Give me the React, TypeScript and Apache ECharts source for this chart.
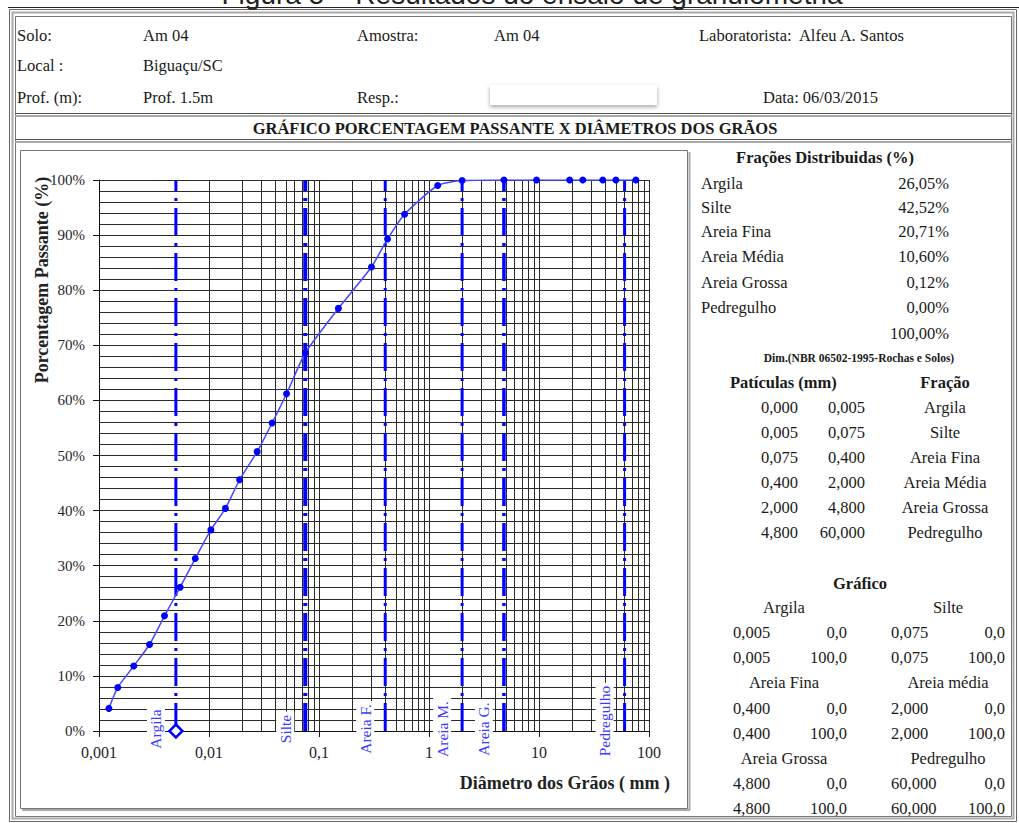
import React, { useEffect, useRef } from 'react';
import * as echarts from 'echarts';

// ---- Curva granulométrica (diâmetro em mm, % passante) ----
const diametros = [0.00123, 0.00148, 0.00207, 0.00288, 0.00394, 0.00547, 0.0075, 0.0104, 0.0141, 0.019, 0.0274, 0.0375, 0.0507, 0.075, 0.15, 0.3, 0.42, 0.6, 1.2, 2.0, 4.8, 9.5, 19, 25, 38, 50, 76];
const passante = [4.1, 7.9, 11.8, 15.7, 20.9, 26.1, 31.3, 36.5, 40.4, 45.6, 50.7, 55.9, 61.2, 68.6, 76.7, 84.2, 89.3, 93.8, 99.0, 99.9, 100, 100, 100, 100, 100, 100, 100];

// ---- Limites das frações ----
const limites = [0.005, 0.075, 0.4, 2.0, 4.8, 60];
const rotulosLimites = ['Argila', 'Silte', 'Areia F.', 'Areia M.', 'Areia G.', 'Pedregulho'];
const limitePct = [0, 100];

// ---- Eixos ----
const xMin = 0.001;
const xMax = 100;
const decadas = [0.001, 0.01, 0.1, 1, 10];
const multiplicadores = [2, 3, 4, 5, 6, 7, 8, 9];

// ---- Cabeçalho ----
const cabecalho = {
  solo: 'Am 04', amostra: 'Am 04', laboratorista: 'Alfeu A. Santos',
  local: 'Biguaçu/SC', prof: 'Prof. 1.5m', data: '06/03/2015',
};
const titulo = 'GRÁFICO PORCENTAGEM PASSANTE X DIÂMETROS DOS GRÃOS';

// ---- Frações distribuídas ----
const fracNomes = ['Argila', 'Silte', 'Areia Fina', 'Areia Média', 'Areia Grossa', 'Pedregulho'];
const fracValores = ['26,05%', '42,52%', '20,71%', '10,60%', '0,12%', '0,00%'];
const fracTotal = '100,00%';

// ---- NBR 6502 ----
const nbrInf = ['0,000', '0,005', '0,075', '0,400', '2,000', '4,800'];
const nbrSup = ['0,005', '0,075', '0,400', '2,000', '4,800', '60,000'];
const nbrFracao = ['Argila', 'Silte', 'Areia Fina', 'Areia Média', 'Areia Grossa', 'Pedregulho'];

// ---- Tabela "Gráfico" ----
const grafNomes = ['Argila', 'Silte', 'Areia Fina', 'Areia média', 'Areia Grossa', 'Pedregulho'];
const grafDiam = ['0,005', '0,075', '0,400', '2,000', '4,800', '60,000'];
const grafPct = ['0,0', '100,0'];

const SERIF = "'Liberation Serif', 'Times New Roman', serif";
const SANS = "'Liberation Sans', Arial, sans-serif";
const TXT = '#1a1a1a';
const BLUE = '#0000ff';

type O = { size?: number; bold?: boolean; align?: string; color?: string; rotation?: number; z?: number; bg?: string; pad?: number[]; font?: string; valign?: string };
function txt(text: string, x: number, y: number, o: O = {}) {
  const style: any = {
    text,
    fontFamily: o.font ?? SERIF,
    fontSize: o.size ?? 15,
    fontWeight: o.bold ? 'bold' : 'normal',
    fill: o.color ?? TXT,
    textAlign: o.align ?? 'left',
    textVerticalAlign: o.valign ?? 'middle',
  };
  if (o.bg) style.backgroundColor = o.bg;
  if (o.pad) style.padding = o.pad;
  return { type: 'text', x, y, rotation: o.rotation ?? 0, z: o.z ?? 10, silent: true, style };
}
function ln(x1: number, y1: number, x2: number, y2: number, color: string, w = 1) {
  return { type: 'line', silent: true, z: 5, shape: { x1, y1, x2, y2 }, style: { stroke: color, lineWidth: w } };
}

function staticGraphics() {
  const g: any[] = [];
  // legenda da figura (cortada no topo, como na referência)
  g.push(txt('Figura 5 – Resultados do ensaio de granulometria', 532, 8, { font: SANS, size: 28, align: 'center', valign: 'bottom', color: '#222' }));
  // moldura
  g.push(ln(8, 7.5, 1019, 7.5, '#222'));
  g.push({ type: 'rect', silent: true, z: 5, shape: { x: 9.5, y: 9.5, width: 1007, height: 812 }, style: { fill: 'none', stroke: '#666', lineWidth: 1 } });
  g.push({ type: 'rect', silent: true, z: 5, shape: { x: 12.5, y: 12.5, width: 1001, height: 806 }, style: { fill: 'none', stroke: '#aaa', lineWidth: 2 } });
  g.push({ type: 'rect', silent: true, z: 5, shape: { x: 15.5, y: 16.5, width: 996, height: 800 }, style: { fill: 'none', stroke: '#777', lineWidth: 1 } });
  g.push(ln(15, 113.5, 1012, 113.5, '#555'));
  g.push(ln(15, 116, 1012, 116, '#aaa', 2));
  g.push(ln(15, 139.5, 1012, 139.5, '#555'));
  g.push(ln(15, 142, 1012, 142, '#aaa', 2));
  // caixa do gráfico
  g.push({ type: 'rect', silent: true, z: 5, shape: { x: 20.5, y: 150.5, width: 667, height: 658 }, style: { fill: 'none', stroke: '#777', lineWidth: 1 } });
  g.push(ln(689.5, 152, 689.5, 810, '#aaa', 2));
  g.push(ln(22, 810, 690, 810, '#aaa', 2));

  // cabeçalho
  const hs = 16.5;
  g.push(txt('Solo:', 17, 35, { size: hs }));
  g.push(txt(cabecalho.solo, 143, 35, { size: hs }));
  g.push(txt('Amostra:', 357, 35, { size: hs }));
  g.push(txt(cabecalho.amostra, 494, 35, { size: hs }));
  g.push(txt('Laboratorista:  ' + cabecalho.laboratorista, 699, 35, { size: hs }));
  g.push(txt('Local :', 17, 65, { size: hs }));
  g.push(txt(cabecalho.local, 143, 65, { size: hs }));
  g.push(txt('Prof. (m):', 17, 97, { size: hs }));
  g.push(txt(cabecalho.prof, 143, 97, { size: hs }));
  g.push(txt('Resp.:', 357, 97, { size: hs }));
  g.push({ type: 'rect', silent: true, z: 6, shape: { x: 490, y: 85, width: 167, height: 20 }, style: { fill: '#fff', shadowBlur: 4, shadowColor: 'rgba(0,0,0,0.35)', shadowOffsetY: 2 } });
  g.push(txt('Data: ' + cabecalho.data, 763, 97, { size: hs }));
  g.push(txt(titulo, 515, 128, { size: 16.5, bold: true, align: 'center' }));

  // nomes dos eixos
  g.push(txt('Porcentagem Passante (%)', 42, 280, { size: 18, bold: true, align: 'center', rotation: Math.PI / 2, color: '#222' }));
  g.push(txt('Diâmetro dos Grãos ( mm )', 670, 783, { size: 18, bold: true, align: 'right', color: '#222' }));

  // tabela: frações
  const ts = 16.5;
  g.push(txt('Frações Distribuidas (%)', 825, 157, { size: ts, bold: true, align: 'center' }));
  const fy = [183, 207, 231, 256, 282, 307];
  fracNomes.forEach((n, i) => {
    g.push(txt(n, 701, fy[i], { size: ts }));
    g.push(txt(fracValores[i], 949, fy[i], { size: ts, align: 'right' }));
  });
  g.push(txt(fracTotal, 949, 333, { size: ts, align: 'right' }));
  g.push(txt('Dim.(NBR 06502-1995-Rochas e Solos)', 859, 358, { size: 11.5, bold: true, align: 'center' }));
  g.push(txt('Patículas (mm)', 730, 382, { size: ts, bold: true }));
  g.push(txt('Fração', 945, 382, { size: ts, bold: true, align: 'center' }));
  nbrInf.forEach((v, i) => {
    const y = 407 + 25 * i;
    g.push(txt(v, 798, y, { size: ts, align: 'right' }));
    g.push(txt(nbrSup[i], 865, y, { size: ts, align: 'right' }));
    g.push(txt(nbrFracao[i], 945, y, { size: ts, align: 'center' }));
  });
  g.push(txt('Gráfico', 860, 583, { size: ts, bold: true, align: 'center' }));
  for (let r = 0; r < 3; r++) {
    const y0 = 607 + 75.5 * r;
    const a = 2 * r, b = 2 * r + 1;
    g.push(txt(grafNomes[a], 784, y0, { size: ts, align: 'center' }));
    g.push(txt(grafNomes[b], 948, y0, { size: ts, align: 'center' }));
    grafPct.forEach((p, k) => {
      const y = y0 + 25.5 + 25 * k;
      g.push(txt(grafDiam[a], 733, y, { size: ts }));
      g.push(txt(p, 847, y, { size: ts, align: 'right' }));
      g.push(txt(grafDiam[b], 891, y, { size: ts }));
      g.push(txt(p, 1005, y, { size: ts, align: 'right' }));
    });
  }
  return g;
}

export default function App() {
  const ref = useRef<HTMLDivElement>(null);
  useEffect(() => {
    if (!ref.current) return;
    const chart = echarts.init(ref.current, undefined, { renderer: 'svg' });

    const minorX: number[] = [];
    decadas.forEach((d) => multiplicadores.forEach((m) => minorX.push(Number((d * m).toPrecision(6)))));

    const gridColor = '#2a2a2a';
    const limWidths = [3, 4, 3, 3, 3.5, 3];

    const series: any[] = [
      {
        name: 'grade', type: 'line', data: [], silent: true, z: 1,
        markLine: {
          silent: true, symbol: ['none', 'none'], animation: false, z: 1,
          label: { show: false },
          lineStyle: { color: gridColor, width: 1, type: 'solid' },
          emphasis: { disabled: true },
          data: minorX.map((v) => ({ xAxis: v })),
        },
      },
    ];
    limites.forEach((lim, i) => {
      const data: any[] = limitePct.map((p) => [lim, p]);
      if (i === 0) {
        data[0] = { value: [lim, limitePct[0]], symbol: 'diamond', symbolSize: 13, itemStyle: { color: '#fff', borderColor: BLUE, borderWidth: 2.5 } };
      }
      series.push({
        name: rotulosLimites[i], type: 'line', data, z: 3, symbol: 'none', showSymbol: i === 0,
        lineStyle: { color: BLUE, width: limWidths[i], type: [28, 7, 3, 7] },
        silent: true,
      });
    });
    series.push({
      name: 'Porcentagem passante', type: 'line', z: 4,
      data: diametros.map((d, i) => [d, passante[i]]),
      symbol: 'circle', symbolSize: 7, smooth: 0.2,
      itemStyle: { color: BLUE },
      lineStyle: { color: '#4646ff', width: 1.5 },
    });

    const option: any = {
      animation: false,
      backgroundColor: '#fff',
      grid: { left: 99, top: 180, width: 550, height: 551, outerBoundsMode: 'none' },
      xAxis: {
        type: 'log', logBase: 10, min: xMin, max: xMax,
        axisLine: { show: true, lineStyle: { color: '#111', width: 1 } },
        axisTick: { show: true, inside: false, length: 6, lineStyle: { color: '#111' } },
        axisLabel: {
          color: '#262626', fontFamily: SERIF, fontSize: 16, margin: 13,
          formatter: (v: number) => String(Number(v.toPrecision(6))).replace('.', ','),
        },
        splitLine: { show: true, lineStyle: { color: gridColor, width: 1 } },
      },
      yAxis: {
        type: 'value', min: 0, max: 100, interval: 10,
        axisLine: { show: true, lineStyle: { color: '#111', width: 1 } },
        axisTick: { show: true, inside: false, length: 6, lineStyle: { color: '#111' } },
        axisLabel: { color: '#262626', fontFamily: SERIF, fontSize: 15, margin: 14, formatter: '{value}%' },
        splitLine: { show: true, lineStyle: { color: gridColor, width: 1 } },
        minorTick: { show: false, splitNumber: 5 },
        minorSplitLine: { show: true, lineStyle: { color: gridColor, width: 1 } },
      },
      series,
    };
    chart.setOption(option);

    const labels = limites.map((lim, i) => {
      const p = chart.convertToPixel({ xAxisIndex: 0, yAxisIndex: 0 }, [lim, 0]) as number[];
      const dy = rotulosLimites[i].length > 8 ? -10 : -2;
      return txt(rotulosLimites[i], p[0] - 20, p[1] + dy, {
        size: 15.5, align: 'center', rotation: Math.PI / 2, color: '#3a3aff', z: 100, bg: '#fff', pad: [1, 3],
      });
    });
    chart.setOption({ graphic: { elements: [...staticGraphics(), ...labels] } });

    return () => chart.dispose();
  }, []);
  return <div ref={ref} style={{ position: 'absolute', left: 0, top: 0, width: 1019, height: 823, background: '#fff' }} />;
}
